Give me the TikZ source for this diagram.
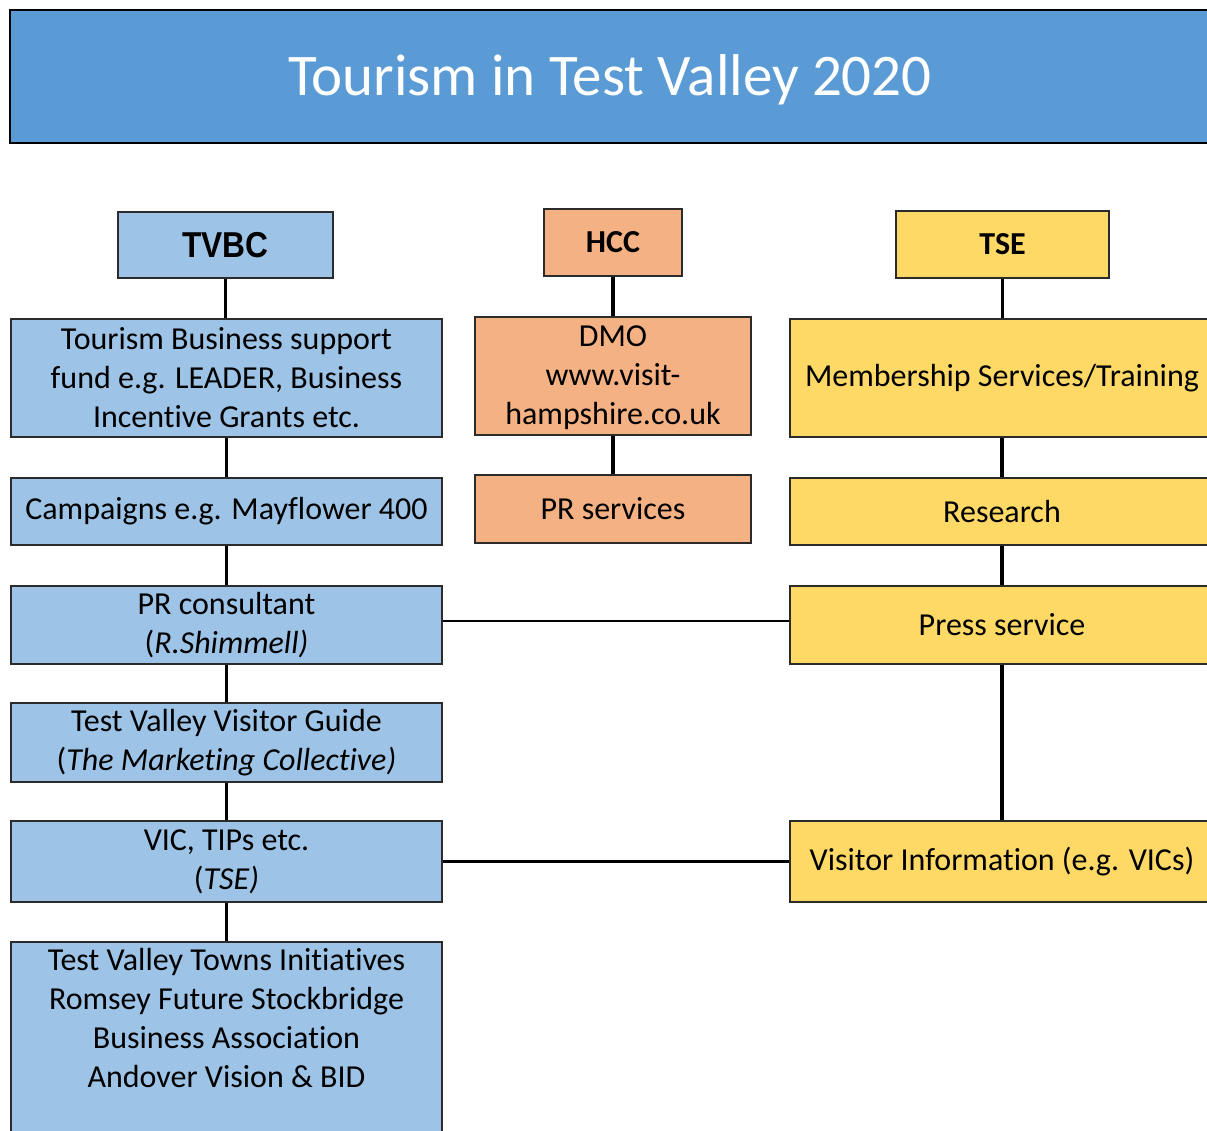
\documentclass[tikz,border=0pt]{standalone}
\usepackage{fontspec}
\setmainfont[Ligatures={NoCommon}]{Carlito}
\newfontfamily\hdrfont[FakeStretch=0.88]{Liberation Sans}
\definecolor{titleblue}{HTML}{5B9BD5}
\definecolor{lblue}{HTML}{9DC3E6}
\definecolor{lorange}{HTML}{F4B183}
\definecolor{lyellow}{HTML}{FFD966}
\definecolor{edge}{HTML}{2B2B2B}
\begin{document}
\begin{tikzpicture}[x=1pt,y=-1pt,
  box/.style={draw=edge, line width=1.5pt, inner sep=0pt, align=center,
    font=\fontsize{32}{39}\selectfont},
  bluebox/.style={box, fill=lblue},
  orbox/.style={box, fill=lorange},
  yelbox/.style={box, fill=lyellow},
  link/.style={draw=black, line width=3.5pt}]
\useasboundingbox (0,0) rectangle (1207,1131);
\clip (0,0) rectangle (1207,1131);

% title
\node[draw=black, line width=1.5pt, fill=titleblue, minimum width=1200pt, minimum height=133pt] (title) at (610,76.5) {};
\node[text=white, inner sep=0pt, font=\fontsize{59}{70}\selectfont] (titletext) at (610,80) {Tourism in Test Valley 2020};

% TVBC column
\node[bluebox, minimum width=215pt, minimum height=66pt, font=\hdrfont\bfseries\fontsize{36}{40}\selectfont] (tvbc) at (225.5,245) {TVBC};
\node[bluebox, minimum width=431pt, minimum height=118pt] (tbs) at (226.5,378) {Tourism Business support\\fund e.g. LEADER, Business\\Incentive Grants etc.};
\node[bluebox, minimum width=431pt, minimum height=67pt] (camp) at (226.5,511.5) {Campaigns e.g. Mayflower 400};
\node[bluebox, minimum width=431pt, minimum height=78pt] (prc) at (226.5,625) {PR consultant\\(\textit{R.Shimmell)}};
\node[bluebox, minimum width=431pt, minimum height=79pt] (guide) at (226.5,742.5) {Test Valley Visitor Guide\\(\textit{The Marketing Collective)}};
\node[bluebox, minimum width=431pt, minimum height=81pt] (vic) at (226.5,861.5) {VIC, TIPs etc.\\(\textit{TSE)}};
\node[bluebox, minimum width=431pt, minimum height=260pt, anchor=north] (towns) at (226.5,941) {};
\node[align=center, inner sep=0pt, font=\fontsize{32}{39}\selectfont] (townstext) at (226.5,1018) {Test Valley Towns Initiatives\\Romsey Future Stockbridge\\Business Association\\Andover Vision \& BID};

% HCC column
\node[orbox, minimum width=138pt, minimum height=67pt, font=\bfseries\fontsize{32}{36}\selectfont] (hcc) at (613,242.5) {HCC};
\node[orbox, minimum width=276pt, minimum height=118pt] (dmo) at (613,376) {};
\node[align=center, inner sep=0pt, font=\fontsize{32}{39}\selectfont] (dmotext) at (613,378) {DMO\\www.visit-\\hampshire.co.uk};
\node[orbox, minimum width=276pt, minimum height=68pt] (prs) at (613,509) {PR services};

% TSE column
\node[yelbox, minimum width=213pt, minimum height=67pt, font=\bfseries\fontsize{32}{36}\selectfont] (tse) at (1002.5,244.5) {TSE};
\node[yelbox, minimum width=424pt, minimum height=118pt] (mem) at (1002,378) {Membership Services/Training};
\node[yelbox, minimum width=424pt, minimum height=67pt] (res) at (1002,511.5) {Research};
\node[yelbox, minimum width=424pt, minimum height=78pt] (press) at (1002,625) {Press service};
\node[yelbox, minimum width=424pt, minimum height=81pt] (vinfo) at (1002,861.5) {Visitor Information (e.g. VICs)};

% connectors
\draw[link] (tvbc.south) -- (tvbc.south |- tbs.north);
\draw[link] (tbs.south) -- (camp.north);
\draw[link] (camp.south) -- (prc.north);
\draw[link] (prc.south) -- (guide.north);
\draw[link] (guide.south) -- (vic.north);
\draw[link] (vic.south) -- (towns.north);
\draw[link] (hcc.south) -- (dmo.north);
\draw[link] (dmo.south) -- (prs.north);
\draw[link] (tse.south) -- (tse.south |- mem.north);
\draw[link] (mem.south) -- (res.north);
\draw[link] (res.south) -- (press.north);
\draw[link] (press.south) -- (vinfo.north);
\draw[draw=black, line width=2.5pt] ([yshift=4pt]prc.east) -- ([yshift=4pt]press.west);
\draw[draw=black, line width=2.5pt] (vic.east) -- (vinfo.west);
\end{tikzpicture}
\end{document}
